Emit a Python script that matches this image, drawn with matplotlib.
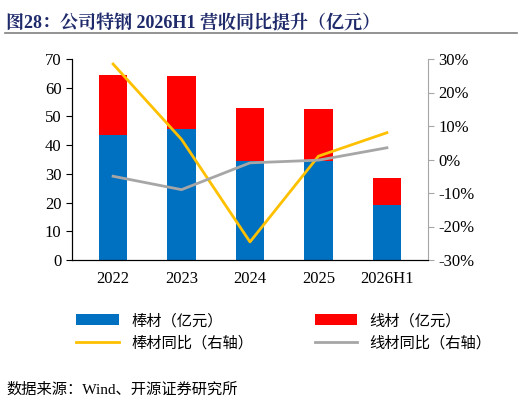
import matplotlib
matplotlib.use("Agg")
import matplotlib.pyplot as plt
import numpy as np
from matplotlib.ticker import FuncFormatter

plt.rcParams['font.family'] = ['Liberation Serif', 'Noto Serif CJK SC', 'Noto Sans CJK SC']

years = ["2022", "2023", "2024", "2025", "2026H1"]
bar_rev = [43.5, 45.5, 34.5, 34.5, 19.0]      # 棒材（亿元）
wire_rev = [21.0, 18.5, 18.5, 18.0, 9.5]      # 线材（亿元）
bar_yoy = [28.5, 6.0, -24.6, 1.0, 8.0]        # 棒材同比 %
wire_yoy = [-5.0, -9.0, -1.0, -0.2, 3.5]      # 线材同比 %

fig = plt.figure(figsize=(5.22, 4.08), dpi=100)
ax = fig.add_axes([72/522, 1-260/408, (428-72)/522, (260-59)/408])
x = np.arange(len(years))
ax.bar(x, bar_rev, width=0.42, color="#0070C0", label="棒材（亿元）")
ax.bar(x, wire_rev, width=0.42, bottom=bar_rev, color="#FF0000", label="线材（亿元）")
ax.set_ylim(0, 70)
ax.set_yticks(range(0, 71, 10))
ax.set_xlim(-0.6, 4.6)
ax.set_xticks(x, years)
ax2 = ax.twinx()
ax2.plot(x, bar_yoy, color="#FFC000", lw=2, label="棒材同比（右轴）")
ax2.plot(x, wire_yoy, color="#A6A6A6", lw=2, label="线材同比（右轴）")
ax2.set_ylim(-30, 30)
ax2.set_yticks(range(-30, 31, 10))
ax2.yaxis.set_major_formatter(FuncFormatter(lambda v, p: f"{v:.0f}%"))
for a in (ax, ax2):
    a.spines['top'].set_visible(False)
    a.tick_params(labelsize=12, length=0)
ax.spines['right'].set_visible(False)
ax2.spines['left'].set_color("black")
ax2.spines['right'].set_color("#A6A6A6")
ax.tick_params(axis='y', direction='out', length=4)
ax2.tick_params(axis='y', direction='out', length=4, colors="black")
ax2.tick_params(axis='y', color="#A6A6A6")
ax.tick_params(axis='x', pad=8)

h1, l1 = ax.get_legend_handles_labels()
h2, l2 = ax2.get_legend_handles_labels()
handles = [h1[0], h2[0], h1[1], h2[1]]
labels = [l1[0], l2[0], l1[1], l2[1]]
fig.legend(handles, labels, ncol=2, loc="upper left", bbox_to_anchor=(0.12, 0.265),
           frameon=False, columnspacing=4, handlelength=2.8,
           prop={'family': ['Liberation Serif', 'Noto Sans CJK SC'], 'size': 11})

fig.text(0.012, 0.965, "图28：公司特钢 2026H1 营收同比提升（亿元）", color="#1F2A6B",
         fontsize=13, fontweight="bold", va="top",
         family=['Liberation Serif', 'Noto Serif CJK SC', 'Noto Sans CJK SC'])
fig.add_artist(plt.Line2D([0.01, 0.99], [1-33/408]*2, color="#808080", lw=1.2))
fig.text(0.012, 0.045, "数据来源：Wind、开源证券研究所", fontsize=11, va="center",
         family=['Liberation Serif', 'Noto Sans CJK SC'])
fig.savefig("out.png", dpi=100)
